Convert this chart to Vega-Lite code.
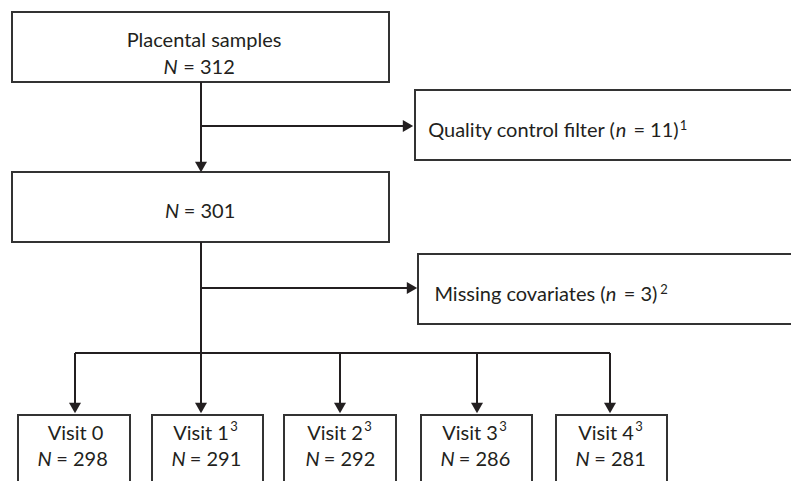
{
  "$schema": "https://vega.github.io/schema/vega-lite/v6.json",
  "width": 791,
  "height": 481,
  "autosize": {"type": "fit", "contains": "padding"},
  "padding": 0,
  "background": "white",
  "config": {"view": {"stroke": null}},
  "datasets": {
    "boxes": [
      {"id": "start", "x0": 12, "x1": 389, "y0": 12, "y1": 82},
      {"id": "qc", "x0": 415, "x1": 800, "y0": 90, "y1": 160},
      {"id": "n301", "x0": 12, "x1": 389, "y0": 172, "y1": 242},
      {"id": "missing", "x0": 418, "x1": 800, "y0": 254, "y1": 324},
      {"id": "v0", "x0": 18, "x1": 130, "y0": 415, "y1": 495},
      {"id": "v1", "x0": 152, "x1": 263, "y0": 415, "y1": 495},
      {"id": "v2", "x0": 284, "x1": 396, "y0": 415, "y1": 495},
      {"id": "v3", "x0": 421, "x1": 532, "y0": 415, "y1": 495},
      {"id": "v4", "x0": 556, "x1": 667, "y0": 415, "y1": 495}
    ],
    "lines": [
      {"x0": 201, "y0": 82, "x1": 201, "y1": 168},
      {"x0": 201, "y0": 126, "x1": 409, "y1": 126},
      {"x0": 201, "y0": 242, "x1": 201, "y1": 409},
      {"x0": 201, "y0": 288, "x1": 413, "y1": 288},
      {"x0": 75, "y0": 353, "x1": 610, "y1": 353},
      {"x0": 75, "y0": 353, "x1": 75, "y1": 409},
      {"x0": 340, "y0": 353, "x1": 340, "y1": 409},
      {"x0": 477, "y0": 353, "x1": 477, "y1": 409},
      {"x0": 610, "y0": 353, "x1": 610, "y1": 409}
    ],
    "arrows": [
      {"ax": 201, "ay": 167, "dir": "down"},
      {"ax": 408, "ay": 126, "dir": "right"},
      {"ax": 412, "ay": 288, "dir": "right"},
      {"ax": 75, "ay": 408, "dir": "down"},
      {"ax": 201, "ay": 408, "dir": "down"},
      {"ax": 340, "ay": 408, "dir": "down"},
      {"ax": 477, "ay": 408, "dir": "down"},
      {"ax": 610, "ay": 408, "dir": "down"}
    ],
    "labels": [
      {"label": "Placental samples", "cx": 204, "by": 47, "kind": "roman"},
      {"label": "= 312", "cx": 209, "by": 74, "kind": "roman"},
      {"label": "= 301", "cx": 209.5, "by": 218, "kind": "roman"},
      {"label": "Quality control filter (", "cx": 521.5, "by": 137, "kind": "roman"},
      {"label": "= 11)", "cx": 656, "by": 137, "kind": "roman"},
      {"label": "Missing covariates (", "cx": 520, "by": 301, "kind": "roman"},
      {"label": "= 3)", "cx": 640.5, "by": 301, "kind": "roman"},
      {"label": "Visit 0", "cx": 75.5, "by": 440, "kind": "roman"},
      {"label": "= 298", "cx": 82, "by": 466, "kind": "roman"},
      {"label": "Visit 1", "cx": 201, "by": 440, "kind": "roman"},
      {"label": "= 291", "cx": 215.5, "by": 466, "kind": "roman"},
      {"label": "Visit 2", "cx": 335, "by": 440, "kind": "roman"},
      {"label": "= 292", "cx": 349.5, "by": 466, "kind": "roman"},
      {"label": "Visit 3", "cx": 470, "by": 440, "kind": "roman"},
      {"label": "= 286", "cx": 484.5, "by": 466, "kind": "roman"},
      {"label": "Visit 4", "cx": 606, "by": 440, "kind": "roman"},
      {"label": "= 281", "cx": 620, "by": 466, "kind": "roman"},
      {"label": "N", "cx": 170.5, "by": 74, "kind": "italic"},
      {"label": "N", "cx": 172, "by": 218, "kind": "italic"},
      {"label": "n", "cx": 621, "by": 137, "kind": "italic"},
      {"label": "n", "cx": 611, "by": 301, "kind": "italic"},
      {"label": "N", "cx": 44.5, "by": 466, "kind": "italic"},
      {"label": "N", "cx": 178.5, "by": 466, "kind": "italic"},
      {"label": "N", "cx": 312.5, "by": 466, "kind": "italic"},
      {"label": "N", "cx": 447.5, "by": 466, "kind": "italic"},
      {"label": "N", "cx": 582.5, "by": 466, "kind": "italic"},
      {"label": "1", "cx": 683.5, "by": 130, "kind": "sup"},
      {"label": "2", "cx": 664, "by": 294, "kind": "sup"},
      {"label": "3", "cx": 234, "by": 431, "kind": "sup"},
      {"label": "3", "cx": 368, "by": 431, "kind": "sup"},
      {"label": "3", "cx": 503, "by": 431, "kind": "sup"},
      {"label": "3", "cx": 639, "by": 431, "kind": "sup"}
    ]
  },
  "layer": [
    {
      "data": {"name": "boxes"},
      "mark": {"type": "rect", "fill": "white", "stroke": "#333333", "strokeWidth": 2, "clip": true},
      "encoding": {
        "x": {"field": "x0", "type": "quantitative", "axis": null, "scale": {"domain": [0, 791], "nice": false, "zero": false}},
        "x2": {"field": "x1"},
        "y": {"field": "y0", "type": "quantitative", "axis": null, "scale": {"domain": [0, 481], "nice": false, "zero": false, "reverse": true}},
        "y2": {"field": "y1"}
      }
    },
    {
      "data": {"name": "lines"},
      "mark": {"type": "rule", "color": "#231f20", "strokeWidth": 2},
      "encoding": {
        "x": {"field": "x0", "type": "quantitative", "axis": null, "scale": {"domain": [0, 791], "nice": false, "zero": false}},
        "x2": {"field": "x1"},
        "y": {"field": "y0", "type": "quantitative", "axis": null, "scale": {"domain": [0, 481], "nice": false, "zero": false, "reverse": true}},
        "y2": {"field": "y1"}
      }
    },
    {
      "data": {"name": "arrows"},
      "mark": {"type": "point", "filled": true, "size": 144, "color": "#231f20", "opacity": 1},
      "encoding": {
        "x": {"field": "ax", "type": "quantitative", "axis": null, "scale": {"domain": [0, 791], "nice": false, "zero": false}},
        "y": {"field": "ay", "type": "quantitative", "axis": null, "scale": {"domain": [0, 481], "nice": false, "zero": false, "reverse": true}},
        "shape": {"field": "dir", "type": "nominal", "legend": null, "scale": {"domain": ["down", "right"], "range": ["triangle-down", "triangle-right"]}}
      }
    },
    {
      "data": {"name": "labels"},
      "transform": [{"filter": "datum.kind === 'roman'"}],
      "mark": {"type": "text", "align": "center", "baseline": "alphabetic", "font": "Lato", "fontSize": 20, "color": "#231f20"},
      "encoding": {
        "x": {"field": "cx", "type": "quantitative", "axis": null, "scale": {"domain": [0, 791], "nice": false, "zero": false}},
        "y": {"field": "by", "type": "quantitative", "axis": null, "scale": {"domain": [0, 481], "nice": false, "zero": false, "reverse": true}},
        "text": {"field": "label"}
      }
    },
    {
      "data": {"name": "labels"},
      "transform": [{"filter": "datum.kind === 'italic'"}],
      "mark": {"type": "text", "align": "center", "baseline": "alphabetic", "font": "Lato", "fontStyle": "italic", "fontSize": 20, "color": "#231f20"},
      "encoding": {
        "x": {"field": "cx", "type": "quantitative", "axis": null, "scale": {"domain": [0, 791], "nice": false, "zero": false}},
        "y": {"field": "by", "type": "quantitative", "axis": null, "scale": {"domain": [0, 481], "nice": false, "zero": false, "reverse": true}},
        "text": {"field": "label"}
      }
    },
    {
      "data": {"name": "labels"},
      "transform": [{"filter": "datum.kind === 'sup'"}],
      "mark": {"type": "text", "align": "center", "baseline": "alphabetic", "font": "Lato", "fontSize": 13, "color": "#231f20"},
      "encoding": {
        "x": {"field": "cx", "type": "quantitative", "axis": null, "scale": {"domain": [0, 791], "nice": false, "zero": false}},
        "y": {"field": "by", "type": "quantitative", "axis": null, "scale": {"domain": [0, 481], "nice": false, "zero": false, "reverse": true}},
        "text": {"field": "label"}
      }
    }
  ]
}
